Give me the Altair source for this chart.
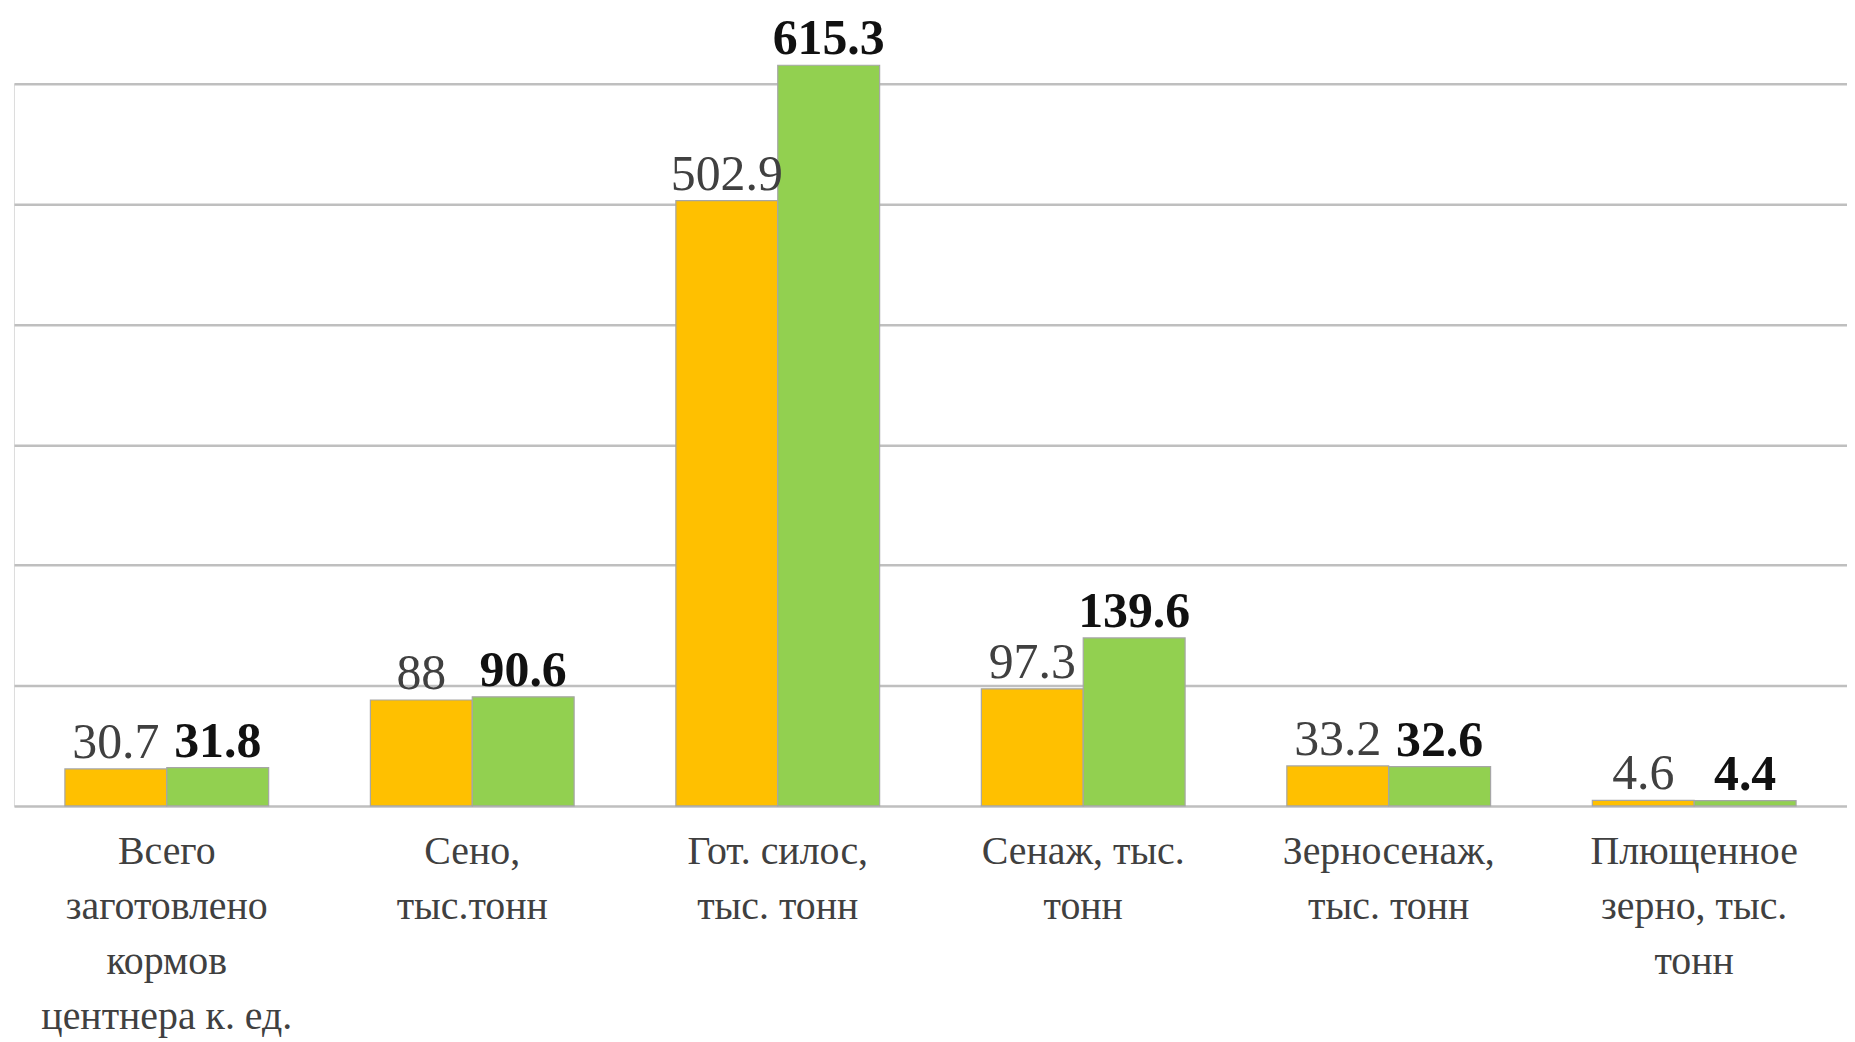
import altair as alt
import pandas as pd

categories = [
    "Всего\nзаготовлено\nкормов\nцентнера к. ед.",
    "Сено,\nтыс.тонн",
    "Гот. силос,\nтыс. тонн",
    "Сенаж, тыс.\nтонн",
    "Зерносенаж,\nтыс. тонн",
    "Плющенное\nзерно, тыс.\nтонн",
]
series = ["Ряд 1", "Ряд 2"]
values_1 = [30.7, 88, 502.9, 97.3, 33.2, 4.6]
values_2 = [31.8, 90.6, 615.3, 139.6, 32.6, 4.4]
grid_values = [0, 100, 200, 300, 400, 500, 600]

rows = []
for c, a, b in zip(categories, values_1, values_2):
    rows.append({"category": c, "series": series[0], "value": a, "label": f"{a:g}"})
    rows.append({"category": c, "series": series[1], "value": b, "label": f"{b:g}"})
df = pd.DataFrame(rows)

SERIF = "Liberation Serif"

base = alt.Chart(df).encode(
    x=alt.X(
        "category:N",
        sort=categories,
        scale=alt.Scale(paddingInner=0.333, paddingOuter=0.1667),
        axis=alt.Axis(
            title=None,
            labelExpr="split(datum.label, '\\n')",
            labelAngle=0,
            labelFont=SERIF,
            labelFontSize=40,
            labelColor="#404040",
            labelLineHeight=55,
            labelPadding=26,
            labelLimit=0,
            ticks=False,
            domain=False,
            grid=False,
        ),
    ),
    xOffset=alt.XOffset("series:N", sort=series, scale=alt.Scale(paddingInner=0, paddingOuter=0)),
    y=alt.Y(
        "value:Q",
        scale=alt.Scale(domain=[0, 600], nice=False),
        axis=alt.Axis(
            title=None,
            labels=False,
            ticks=False,
            domain=False,
            values=grid_values,
            grid=True,
            gridColor="#BFBFBF",
            gridWidth=2.5,
        ),
    ),
)

bars = base.mark_bar(stroke="#A6A6A6", strokeWidth=1.2).encode(
    color=alt.Color("series:N", sort=series,
                    scale=alt.Scale(domain=series, range=["#FFC000", "#92D050"]),
                    legend=None)
)

text1 = base.transform_filter(alt.datum.series == series[0]).mark_text(
    font=SERIF, fontSize=50, color="#404040", baseline="alphabetic", dy=-11
).encode(text="label:N")

text2 = base.transform_filter(alt.datum.series == series[1]).mark_text(
    font=SERIF, fontSize=50, fontWeight="bold", color="#111111",
    baseline="alphabetic", dy=-11
).encode(text="label:N")

chart = (
    alt.layer(bars, text1, text2)
    .properties(
        width=1840,
        height=725,
        padding={"left": 6, "top": 74, "right": 0, "bottom": 231},
        autosize=alt.AutoSizeParams(type="none"),
        background="white",
    )
    .configure_view(stroke=None)
    .configure_axis(labelFont=SERIF)
    .configure(font=SERIF)
)

chart.save("out.html", embed_options={"renderer": "svg", "actions": False})
